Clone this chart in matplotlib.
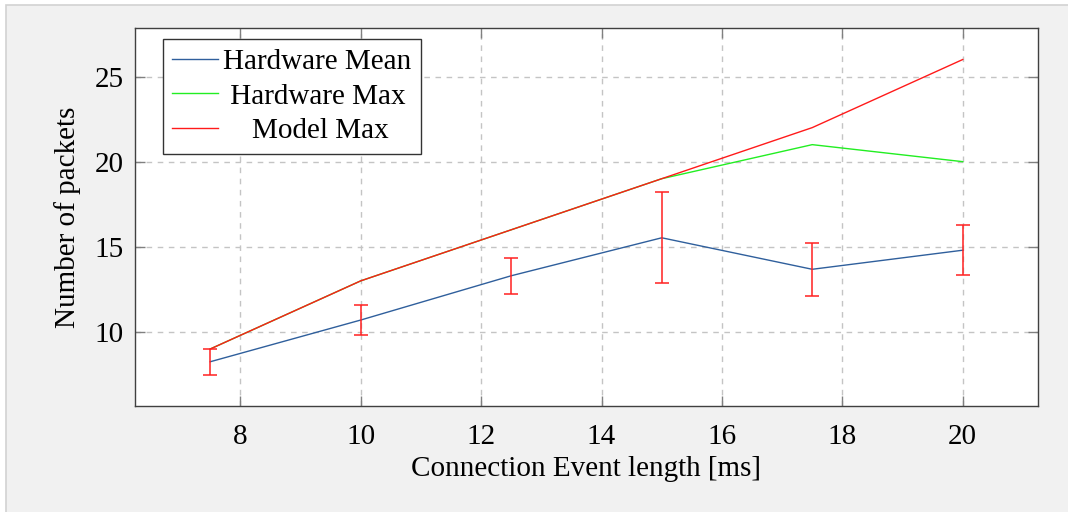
import matplotlib.pyplot as plt
from matplotlib.patches import Rectangle

plt.rcParams['font.family'] = ['Liberation Serif', 'DejaVu Serif']
plt.rcParams['font.size'] = 21

# connection event length [ms]
event_len = [7.5, 10, 12.5, 15, 17.5, 20]
hw_mean = [8.25, 10.7, 13.3, 15.53, 13.68, 14.8]
hw_std = [0.75, 0.86, 1.07, 2.68, 1.56, 1.47]
hw_max = [9, 13, 16, 19, 21, 20]
model_max = [9, 13, 16, 19, 22, 26]

fig = plt.figure(figsize=(10.68, 5.12), dpi=100, facecolor='white')
fig.patches.append(Rectangle((6 / 1068, -0.1), 1.1, 1.1 - 5 / 512, transform=fig.transFigure,
                             facecolor='#f1f1f1', edgecolor='#d2d2d2', lw=1.2, zorder=-10))
ax = fig.add_axes([0.1264, 0.207, 0.8455, 0.7383])
ax.set_facecolor('white')

ax.plot(event_len, hw_mean, color='#2f5f9c', lw=1, label='Hardware Mean', zorder=3)
ax.plot(event_len, hw_max, color='#22ee22', lw=1, label='Hardware Max', zorder=3)
ax.plot(event_len, model_max, color='#ff1a1a', lw=1, label='Model Max', zorder=4)
ax.errorbar(event_len, hw_mean, yerr=hw_std, fmt='none', ecolor='#ff2020',
            elinewidth=1.1, capsize=5, capthick=1.1, zorder=5)

ax.set_xlim(6.25, 21.25)
ax.set_ylim(5.65, 27.85)
ax.set_xticks([8, 10, 12, 14, 16, 18, 20])
ax.set_yticks([10, 15, 20, 25])
ax.tick_params(direction='in', length=7, width=1, color='#808080',
               top=True, right=True)
ax.tick_params(axis='x', pad=13)
ax.tick_params(axis='y', pad=8)
for s in ax.spines.values():
    s.set_color('#404040')
    s.set_linewidth(1)

ax.grid(True, color='#c4c4c4', lw=1, linestyle=(0, (4, 4)))
ax.set_axisbelow(True)

ax.set_xlabel('Connection Event length [ms]', labelpad=4)
ax.set_ylabel('Number of packets', labelpad=10)

leg = ax.legend(loc='upper left', bbox_to_anchor=(0.031, 0.971), borderaxespad=0,
                fancybox=False, framealpha=1, edgecolor='#333333', handlelength=1.55,
                labelspacing=0.29, borderpad=0.32, handletextpad=0.2, fontsize=21)
leg.get_frame().set_linewidth(1)

# centre the legend labels in their column by padding with spaces
fig.canvas.draw()
texts = leg.get_texts()
widths = [t.get_window_extent().width for t in texts]
space_w = texts[0].get_fontsize() * fig.dpi / 72 * 0.25
for t, w in zip(texts, widths):
    n = int(round((max(widths) - w) / 2 / space_w))
    t.set_text(' ' * n + t.get_text())

fig.savefig('out.png', dpi=100, facecolor=fig.get_facecolor())
